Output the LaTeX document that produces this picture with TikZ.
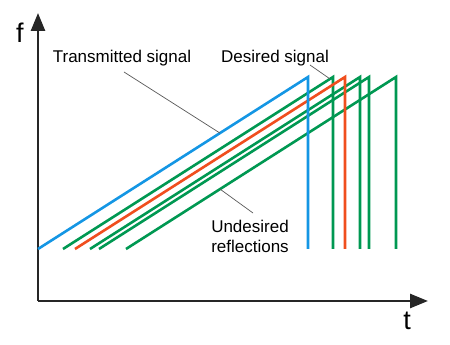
\documentclass[tikz,border=0pt]{standalone}
\usepackage{fontspec}
\setmainfont{Liberation Sans}
\usetikzlibrary{arrows.meta}
\definecolor{txblue}{RGB}{20,150,228}
\definecolor{refgreen}{RGB}{0,152,82}
\definecolor{wantred}{RGB}{240,78,30}
\tikzset{
  axis/.style={line width=2.6pt, draw={black!85}, -{Triangle[length=18pt,width=14pt]}},
  ramp/.style={line width=2.6pt, line join=miter},
  lbl/.style={font=\fontsize{17}{20}\selectfont, inner sep=0pt, anchor=base},
  axlbl/.style={font=\fontsize{27}{30}\selectfont, inner sep=0pt},
  leader/.style={draw=black!65, line width=0.7pt}
}
\begin{document}
\begin{tikzpicture}[x=1pt,y=1pt]
  \useasboundingbox (0,0) rectangle (450,345);
  % axes
  \coordinate (origin) at (38,44);
  \coordinate (ftip) at (38,332);
  \coordinate (ttip) at (428,44);
  \draw[axis] (origin) -- (ftip);
  \draw[axis] (origin) -- (ttip);
  \node[axlbl] (flbl) at (20,312) {f};
  \node[axlbl] (tlbl) at (407,24) {t};
  % chirps
  \foreach \s/\c in {63/refgreen, 90/refgreen, 99/refgreen, 126/refgreen, 75/wantred, 38/txblue}
    \draw[ramp, \c] (\s,96) -- ++(270,172) -- ++(0,-172);
  % labels
  \node[lbl] (trans) at (122,282) {Transmitted signal};
  \node[lbl] (want) at (275,282) {Desired signal};
  \node[lbl, align=center] (refl) at (250,92) {Undesired\\reflections};
  \coordinate (transA) at (124,273);
  \coordinate (transB) at (220,211.9);
  \coordinate (wantA) at (310,280);
  \coordinate (wantB) at (330,266.1);
  \coordinate (reflA) at (253,132);
  \coordinate (reflB) at (220,155.9);
  \draw[leader] (transA) -- (transB);
  \draw[leader] (wantA) -- (wantB);
  \draw[leader] (reflA) -- (reflB);
\end{tikzpicture}
\end{document}
